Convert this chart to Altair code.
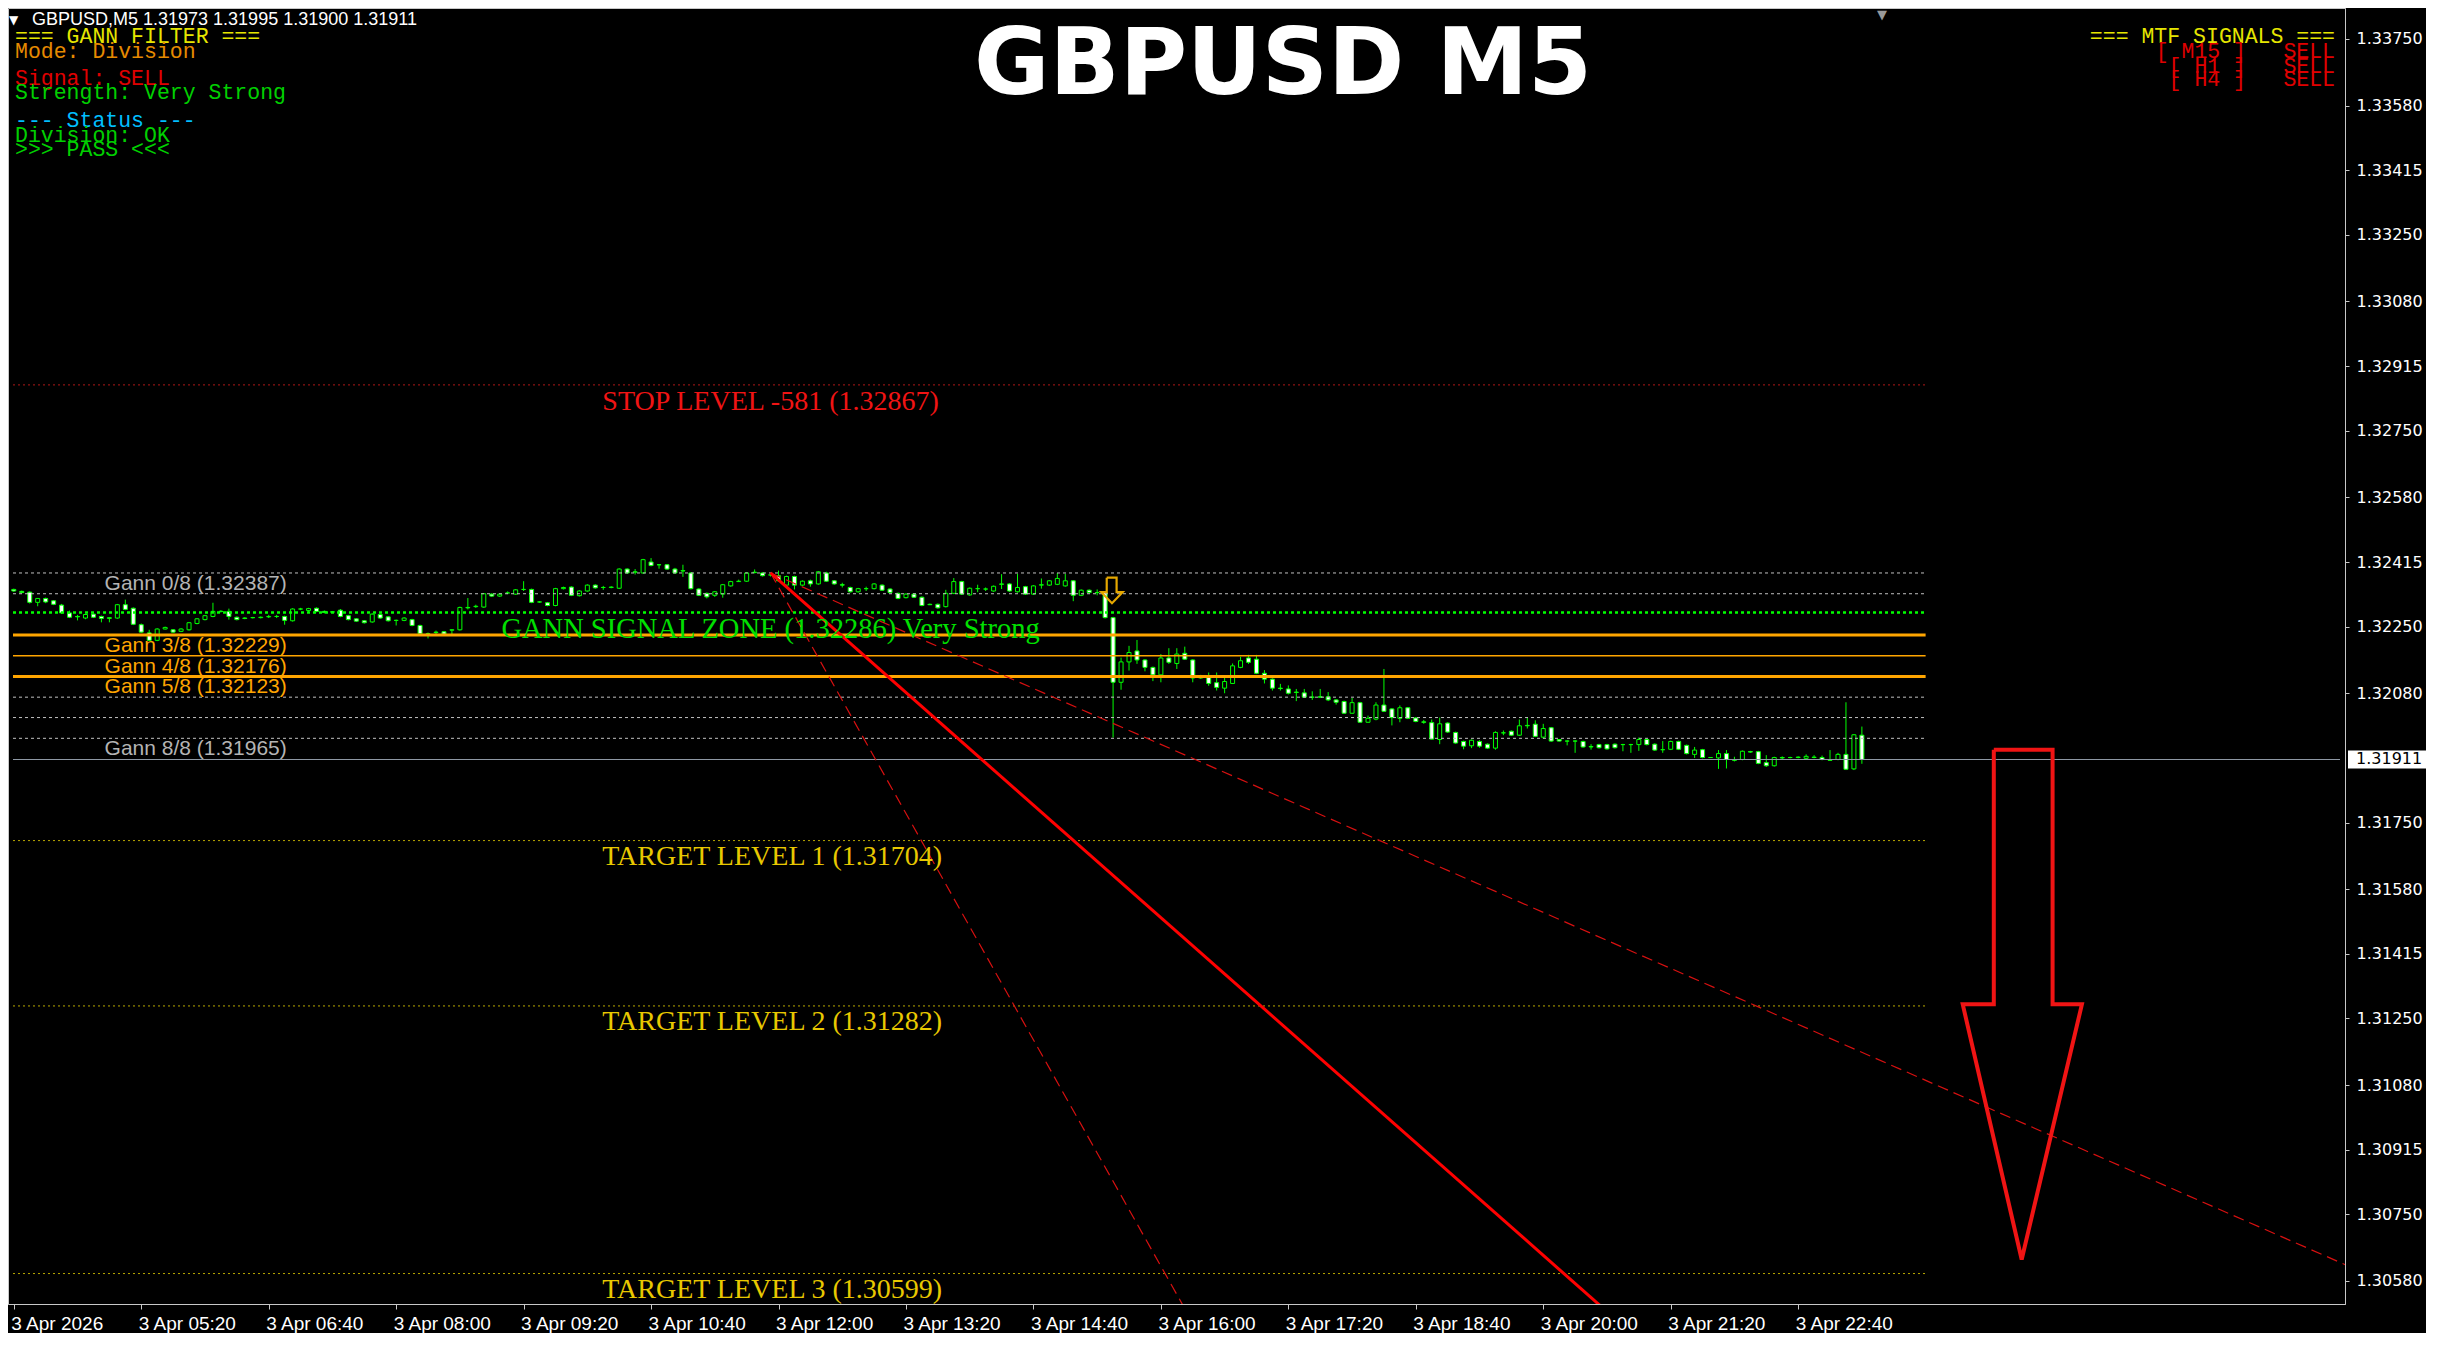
import altair as alt
import pandas as pd

# ---------------- axis ticks ----------------
TIME_TICKS = [0, 80, 160, 240, 320, 400, 480, 560, 640, 720, 800, 880, 960, 1040, 1120]  # minutes after 04:00
TIME_LABELS = ["3 Apr 2026", "3 Apr 05:20", "3 Apr 06:40", "3 Apr 08:00", "3 Apr 09:20",
               "3 Apr 10:40", "3 Apr 12:00", "3 Apr 13:20", "3 Apr 14:40", "3 Apr 16:00",
               "3 Apr 17:20", "3 Apr 18:40", "3 Apr 20:00", "3 Apr 21:20", "3 Apr 22:40"]
PRICE_TICKS = [1.33750, 1.33580, 1.33415, 1.33250, 1.33080, 1.32915, 1.32750, 1.32580,
               1.32415, 1.32250, 1.32080, 1.31750, 1.31580, 1.31415, 1.31250, 1.31080,
               1.30915, 1.30750, 1.30580]

# ---------------- M5 candles (bar i opens at 04:00 + 5*i minutes) ----------------
OPEN = [
    1.32345, 1.32340, 1.32338, 1.32312, 1.32322, 1.32316, 1.32305, 1.32285, 1.32276, 1.32272,
    1.32282, 1.32276, 1.32271, 1.32272, 1.32306, 1.32297, 1.32255, 1.32234, 1.32215, 1.32244,
    1.32242, 1.32238, 1.32242, 1.32258, 1.32268, 1.32276, 1.32289, 1.32289, 1.32274, 1.32272,
    1.32273, 1.32273, 1.32275, 1.32276, 1.32276, 1.32265, 1.32295, 1.32291, 1.32297, 1.32289,
    1.32287, 1.32292, 1.32278, 1.32270, 1.32265, 1.32262, 1.32281, 1.32275, 1.32266, 1.32266,
    1.32268, 1.32253, 1.32232, 1.32235, 1.32237, 1.32241, 1.32242, 1.32299, 1.32301, 1.32300,
    1.32333, 1.32328, 1.32336, 1.32333, 1.32345, 1.32345, 1.32313, 1.32311, 1.32304, 1.32347,
    1.32351, 1.32329, 1.32341, 1.32356, 1.32350, 1.32350, 1.32348, 1.32397, 1.32389, 1.32387,
    1.32415, 1.32408, 1.32408, 1.32397, 1.32392, 1.32387, 1.32346, 1.32335, 1.32330, 1.32333,
    1.32354, 1.32365, 1.32366, 1.32388, 1.32387, 1.32382, 1.32380, 1.32356, 1.32378, 1.32356,
    1.32367, 1.32359, 1.32387, 1.32367, 1.32357, 1.32350, 1.32339, 1.32347, 1.32347, 1.32356,
    1.32346, 1.32335, 1.32324, 1.32333, 1.32325, 1.32307, 1.32307, 1.32301, 1.32335, 1.32365,
    1.32331, 1.32347, 1.32346, 1.32341, 1.32358, 1.32359, 1.32339, 1.32352, 1.32333, 1.32356,
    1.32356, 1.32358, 1.32354, 1.32367, 1.32330, 1.32343, 1.32337, 1.32337, 1.32273, 1.32108,
    1.32160, 1.32188, 1.32165, 1.32146, 1.32127, 1.32170, 1.32156, 1.32182, 1.32165, 1.32125,
    1.32125, 1.32107, 1.32093, 1.32105, 1.32146, 1.32170, 1.32167, 1.32131, 1.32116, 1.32093,
    1.32091, 1.32083, 1.32081, 1.32070, 1.32071, 1.32071, 1.32063, 1.32059, 1.32029, 1.32056,
    1.32006, 1.32014, 1.32050, 1.32040, 1.32016, 1.32043, 1.32017, 1.32007, 1.32005, 1.31962,
    1.32004, 1.31980, 1.31957, 1.31946, 1.31957, 1.31950, 1.31940, 1.31979, 1.31983, 1.31973,
    1.31998, 1.32001, 1.31968, 1.31992, 1.31962, 1.31958, 1.31958, 1.31957, 1.31944, 1.31949,
    1.31949, 1.31950, 1.31949, 1.31949, 1.31949, 1.31962, 1.31950, 1.31936, 1.31937, 1.31957,
    1.31947, 1.31924, 1.31936, 1.31916, 1.31915, 1.31926, 1.31910, 1.31911, 1.31931, 1.31931,
    1.31903, 1.31895, 1.31916, 1.31916, 1.31916, 1.31914, 1.31917, 1.31916, 1.31910, 1.31911,
    1.31924, 1.31887, 1.31973,
]
HIGH = [
    1.32347, 1.32342, 1.32340, 1.32323, 1.32324, 1.32318, 1.32308, 1.32291, 1.32280, 1.32283,
    1.32284, 1.32278, 1.32274, 1.32308, 1.32319, 1.32299, 1.32258, 1.32242, 1.32246, 1.32250,
    1.32244, 1.32246, 1.32262, 1.32272, 1.32280, 1.32311, 1.32292, 1.32296, 1.32276, 1.32274,
    1.32275, 1.32276, 1.32280, 1.32280, 1.32278, 1.32297, 1.32298, 1.32298, 1.32299, 1.32291,
    1.32290, 1.32295, 1.32280, 1.32272, 1.32267, 1.32284, 1.32283, 1.32277, 1.32268, 1.32274,
    1.32270, 1.32255, 1.32235, 1.32240, 1.32239, 1.32244, 1.32301, 1.32323, 1.32306, 1.32336,
    1.32335, 1.32335, 1.32340, 1.32346, 1.32366, 1.32347, 1.32315, 1.32313, 1.32349, 1.32352,
    1.32353, 1.32343, 1.32358, 1.32358, 1.32354, 1.32353, 1.32399, 1.32399, 1.32397, 1.32423,
    1.32425, 1.32409, 1.32410, 1.32400, 1.32408, 1.32389, 1.32348, 1.32337, 1.32341, 1.32359,
    1.32367, 1.32370, 1.32389, 1.32396, 1.32389, 1.32386, 1.32393, 1.32380, 1.32380, 1.32368,
    1.32370, 1.32392, 1.32390, 1.32369, 1.32362, 1.32352, 1.32349, 1.32352, 1.32361, 1.32358,
    1.32348, 1.32337, 1.32335, 1.32335, 1.32327, 1.32309, 1.32309, 1.32344, 1.32374, 1.32367,
    1.32350, 1.32357, 1.32350, 1.32355, 1.32384, 1.32361, 1.32385, 1.32354, 1.32356, 1.32373,
    1.32369, 1.32387, 1.32385, 1.32369, 1.32345, 1.32345, 1.32345, 1.32339, 1.32275, 1.32171,
    1.32201, 1.32216, 1.32167, 1.32148, 1.32180, 1.32195, 1.32195, 1.32199, 1.32167, 1.32127,
    1.32133, 1.32133, 1.32121, 1.32156, 1.32173, 1.32178, 1.32178, 1.32139, 1.32118, 1.32104,
    1.32100, 1.32091, 1.32091, 1.32085, 1.32091, 1.32083, 1.32065, 1.32061, 1.32068, 1.32058,
    1.32023, 1.32057, 1.32142, 1.32042, 1.32049, 1.32045, 1.32019, 1.32012, 1.32013, 1.32018,
    1.32006, 1.31982, 1.31959, 1.31962, 1.31960, 1.31952, 1.31983, 1.31985, 1.31985, 1.32013,
    1.32018, 1.32011, 1.32002, 1.31994, 1.31963, 1.31960, 1.31960, 1.31959, 1.31950, 1.31951,
    1.31951, 1.31952, 1.31951, 1.31951, 1.31967, 1.31964, 1.31952, 1.31958, 1.31959, 1.31959,
    1.31949, 1.31943, 1.31938, 1.31917, 1.31935, 1.31935, 1.31918, 1.31934, 1.31933, 1.31933,
    1.31922, 1.31918, 1.31919, 1.31918, 1.31919, 1.31924, 1.31922, 1.31921, 1.31935, 1.31928,
    1.32057, 1.31976, 1.31995,
]
LOW = [
    1.32339, 1.32335, 1.32309, 1.32302, 1.32310, 1.32305, 1.32283, 1.32272, 1.32266, 1.32269,
    1.32272, 1.32261, 1.32261, 1.32270, 1.32292, 1.32254, 1.32234, 1.32214, 1.32213, 1.32243,
    1.32234, 1.32236, 1.32240, 1.32256, 1.32266, 1.32274, 1.32286, 1.32268, 1.32266, 1.32269,
    1.32271, 1.32271, 1.32272, 1.32272, 1.32255, 1.32263, 1.32292, 1.32286, 1.32287, 1.32284,
    1.32285, 1.32274, 1.32266, 1.32262, 1.32258, 1.32260, 1.32270, 1.32263, 1.32253, 1.32264,
    1.32251, 1.32230, 1.32220, 1.32228, 1.32229, 1.32230, 1.32240, 1.32294, 1.32298, 1.32298,
    1.32326, 1.32326, 1.32333, 1.32331, 1.32341, 1.32310, 1.32311, 1.32302, 1.32302, 1.32345,
    1.32328, 1.32327, 1.32339, 1.32347, 1.32344, 1.32348, 1.32346, 1.32385, 1.32383, 1.32385,
    1.32404, 1.32398, 1.32395, 1.32385, 1.32377, 1.32345, 1.32328, 1.32322, 1.32326, 1.32324,
    1.32352, 1.32364, 1.32364, 1.32386, 1.32378, 1.32378, 1.32365, 1.32350, 1.32345, 1.32354,
    1.32352, 1.32357, 1.32364, 1.32357, 1.32350, 1.32337, 1.32337, 1.32341, 1.32345, 1.32341,
    1.32335, 1.32320, 1.32322, 1.32323, 1.32302, 1.32305, 1.32296, 1.32299, 1.32333, 1.32331,
    1.32329, 1.32338, 1.32341, 1.32339, 1.32346, 1.32339, 1.32337, 1.32331, 1.32331, 1.32347,
    1.32354, 1.32356, 1.32352, 1.32315, 1.32328, 1.32335, 1.32330, 1.32271, 1.31967, 1.32089,
    1.32138, 1.32155, 1.32136, 1.32111, 1.32108, 1.32155, 1.32142, 1.32165, 1.32108, 1.32117,
    1.32099, 1.32087, 1.32080, 1.32104, 1.32144, 1.32155, 1.32129, 1.32105, 1.32087, 1.32087,
    1.32077, 1.32060, 1.32068, 1.32063, 1.32068, 1.32060, 1.32051, 1.32028, 1.32028, 1.32005,
    1.32005, 1.32011, 1.32032, 1.31998, 1.32006, 1.32014, 1.32006, 1.32002, 1.31962, 1.31950,
    1.31979, 1.31951, 1.31937, 1.31940, 1.31941, 1.31938, 1.31936, 1.31973, 1.31971, 1.31971,
    1.31990, 1.31968, 1.31964, 1.31956, 1.31957, 1.31947, 1.31928, 1.31941, 1.31936, 1.31939,
    1.31936, 1.31939, 1.31932, 1.31928, 1.31933, 1.31947, 1.31933, 1.31928, 1.31935, 1.31935,
    1.31924, 1.31915, 1.31914, 1.31915, 1.31887, 1.31888, 1.31906, 1.31909, 1.31928, 1.31899,
    1.31892, 1.31893, 1.31911, 1.31914, 1.31914, 1.31911, 1.31914, 1.31909, 1.31908, 1.31909,
    1.31884, 1.31884, 1.31900,
]
CLOSE = [
    1.32341, 1.32337, 1.32312, 1.32322, 1.32313, 1.32307, 1.32285, 1.32274, 1.32275, 1.32281,
    1.32274, 1.32271, 1.32273, 1.32306, 1.32294, 1.32256, 1.32236, 1.32215, 1.32244, 1.32248,
    1.32236, 1.32244, 1.32260, 1.32270, 1.32278, 1.32289, 1.32289, 1.32276, 1.32268, 1.32271,
    1.32273, 1.32274, 1.32276, 1.32276, 1.32266, 1.32295, 1.32295, 1.32296, 1.32289, 1.32286,
    1.32288, 1.32276, 1.32268, 1.32264, 1.32260, 1.32282, 1.32272, 1.32265, 1.32266, 1.32272,
    1.32253, 1.32232, 1.32231, 1.32236, 1.32231, 1.32242, 1.32299, 1.32298, 1.32302, 1.32334,
    1.32328, 1.32333, 1.32336, 1.32344, 1.32345, 1.32312, 1.32313, 1.32304, 1.32347, 1.32350,
    1.32330, 1.32341, 1.32356, 1.32349, 1.32350, 1.32351, 1.32397, 1.32387, 1.32390, 1.32421,
    1.32406, 1.32408, 1.32397, 1.32387, 1.32393, 1.32347, 1.32330, 1.32326, 1.32339, 1.32357,
    1.32365, 1.32366, 1.32387, 1.32389, 1.32380, 1.32382, 1.32367, 1.32378, 1.32356, 1.32366,
    1.32359, 1.32390, 1.32366, 1.32359, 1.32356, 1.32339, 1.32347, 1.32347, 1.32359, 1.32343,
    1.32337, 1.32322, 1.32333, 1.32325, 1.32304, 1.32306, 1.32298, 1.32335, 1.32365, 1.32333,
    1.32348, 1.32347, 1.32346, 1.32353, 1.32359, 1.32341, 1.32350, 1.32333, 1.32354, 1.32357,
    1.32367, 1.32373, 1.32367, 1.32330, 1.32343, 1.32337, 1.32337, 1.32273, 1.32108, 1.32160,
    1.32184, 1.32165, 1.32146, 1.32127, 1.32170, 1.32159, 1.32180, 1.32167, 1.32119, 1.32119,
    1.32105, 1.32095, 1.32110, 1.32150, 1.32163, 1.32159, 1.32131, 1.32116, 1.32093, 1.32092,
    1.32080, 1.32082, 1.32070, 1.32070, 1.32070, 1.32063, 1.32057, 1.32029, 1.32056, 1.32006,
    1.32016, 1.32050, 1.32034, 1.32018, 1.32043, 1.32016, 1.32008, 1.32006, 1.31963, 1.32002,
    1.31981, 1.31953, 1.31945, 1.31960, 1.31945, 1.31940, 1.31980, 1.31979, 1.31973, 1.31997,
    1.31997, 1.31970, 1.31990, 1.31958, 1.31958, 1.31958, 1.31958, 1.31943, 1.31943, 1.31941,
    1.31938, 1.31941, 1.31949, 1.31949, 1.31962, 1.31949, 1.31935, 1.31936, 1.31957, 1.31937,
    1.31926, 1.31935, 1.31916, 1.31916, 1.31926, 1.31911, 1.31909, 1.31932, 1.31930, 1.31901,
    1.31895, 1.31916, 1.31915, 1.31916, 1.31917, 1.31919, 1.31916, 1.31911, 1.31909, 1.31924,
    1.31886, 1.31974, 1.31911,
]

# ---------------- levels ----------------
GANN_NAMES = ["0/8", "1/8", "2/8", "3/8", "4/8", "5/8", "6/8", "7/8", "8/8"]
GANN_PRICES = [1.32387, 1.32334, 1.32282, 1.32229, 1.32176, 1.32123, 1.32070, 1.32018, 1.31965]
SIGNAL_ZONE = 1.32286
STOP_PRICE = 1.32867
STOP_PIPS = -581
TARGET_PRICES = [1.31704, 1.31282, 1.30599]
CURRENT_PRICE = 1.31911
LEVEL_END_T = 1200          # objects drawn up to 24:00
LABEL_T = 475               # centre time of level captions
GANN_LABEL_T = 57           # start time of Gann captions

# Gann fan from the 11:55 high
FAN_T0, FAN_P0 = 475, 1.32387
FAN_END_T = [760, 1020, 1480]
FAN_END_P = [1.30329, 1.30430, 1.30592]

# big hollow sell arrow outline
ARROW_T = [1242.8, 1279.7, 1279.7, 1298.1, 1260.3, 1223.3, 1242.8, 1242.8]
ARROW_P = [1.31936, 1.31936, 1.31286, 1.31286, 1.30635, 1.31286, 1.31286, 1.31936]

# small signal arrow outline (14:50 bar)
SIG_T = [686.0, 692.2, 692.2, 696.0, 689.3, 682.6, 686.0, 686.0]
SIG_P = [1.32375, 1.32375, 1.32338, 1.32338, 1.32310, 1.32338, 1.32338, 1.32375]

# texts
TITLE = "GBPUSD M5"
HEADER = "GBPUSD,M5  1.31973 1.31995 1.31900 1.31911"
INFO_LINES = ["=== GANN FILTER ===", "Mode: Division", "Signal: SELL", "Strength: Very Strong",
              "--- Status ---", "Division: OK", ">>> PASS <<<"]
MTF_TITLE = "=== MTF SIGNALS ==="
MTF_FRAMES = ["[ M15 ]", "[ H1 ]", "[ H4 ]"]
MTF_SIGNALS = ["SELL", "SELL", "SELL"]

# ---------------- scales / axes ----------------
W, H = 2337, 1296
Y_TOP, Y_BOT = 1.338289, 1.305213
XS = alt.Scale(domain=[-0.5, 1460.1], nice=False, zero=False)
YS = alt.Scale(domain=[Y_BOT, Y_TOP], nice=False, zero=False)
label_js = "[" + ",".join("'%s'" % s for s in TIME_LABELS) + "][round(datum.value / 80)]"
XAX = alt.Axis(values=TIME_TICKS, labelExpr=label_js, title=None, grid=False, labelAlign="left",
               labelFlush=False, labelOverlap=False, tickSize=5, labelPadding=5,
               labelFont="Liberation Sans", labelFontSize=19, labelColor="#FFFFFF",
               tickColor="#C8C8C8", domainColor="#C8C8C8", labelBaseline="top", labelOffset=-3)
YAX = alt.Axis(orient="right", values=PRICE_TICKS, format=".5f", title=None, grid=False,
               labelFont="DejaVu Sans", labelFontSize=16, labelColor="#FFFFFF",
               tickColor="#C8C8C8", domainColor="#C8C8C8", tickSize=4, labelPadding=7,
               labelOverlap=False, labelFlush=False)


def xq(f):
    return alt.X(f + ":Q", scale=XS, axis=XAX)


def yq(f):
    return alt.Y(f + ":Q", scale=YS, axis=YAX)


layers = []

# candles
n = len(OPEN)
cdf = pd.DataFrame({"t": [5 * i for i in range(n)], "o": OPEN, "h": HIGH, "l": LOW, "c": CLOSE})
layers.append(alt.Chart(cdf).mark_rule(color="#00FF00", strokeWidth=1).encode(
    x=xq("t"), y=yq("l"), y2="h:Q"))
layers.append(alt.Chart(cdf).mark_bar(size=4, stroke="#00FF00", strokeWidth=1).encode(
    x=xq("t"), y=yq("o"), y2="c:Q",
    fill=alt.condition("datum.c < datum.o", alt.value("#FFFFFF"), alt.value("#000000"))))


def hrule(prices, t0, t1, **style):
    df = pd.DataFrame({"p": prices, "t0": [t0] * len(prices), "t1": [t1] * len(prices)})
    return alt.Chart(df).mark_rule(**style).encode(x=xq("t0"), x2="t1:Q", y=yq("p"))


gray_idx = [0, 1, 6, 7, 8]
orange_thick = [3, 5]
layers.append(hrule([STOP_PRICE], -0.5, LEVEL_END_T, color="#B01818", strokeWidth=1, strokeDash=[2, 3]))
layers.append(hrule(TARGET_PRICES, -0.5, LEVEL_END_T, color="#B8A800", strokeWidth=1, strokeDash=[2, 3]))
layers.append(hrule([GANN_PRICES[i] for i in gray_idx], -0.5, LEVEL_END_T,
                    color="#C0C0C0", strokeWidth=1, strokeDash=[3, 3]))
layers.append(hrule([CURRENT_PRICE], -0.5, 1460.1, color="#8E98A4", strokeWidth=1.2))
layers.append(hrule([SIGNAL_ZONE], -0.5, LEVEL_END_T, color="#00FF00", strokeWidth=2.5, strokeDash=[3, 3]))
layers.append(hrule([GANN_PRICES[i] for i in orange_thick], -0.5, LEVEL_END_T, color="#FFA500", strokeWidth=3))
layers.append(hrule([GANN_PRICES[4]], -0.5, LEVEL_END_T, color="#FFA500", strokeWidth=1.5))

# Gann fan
fan_dash = pd.DataFrame({"id": [0, 0, 2, 2],
                         "t": [FAN_T0, FAN_END_T[0], FAN_T0, FAN_END_T[2]],
                         "p": [FAN_P0, FAN_END_P[0], FAN_P0, FAN_END_P[2]]})
layers.append(alt.Chart(fan_dash).mark_line(clip=True, color="#D81010", strokeWidth=1.2,
                                            strokeDash=[11, 6]).encode(
    x=xq("t"), y=yq("p"), detail="id:N"))
fan_solid = pd.DataFrame({"t": [FAN_T0, FAN_END_T[1]], "p": [FAN_P0, FAN_END_P[1]]})
layers.append(alt.Chart(fan_solid).mark_line(clip=True, color="#FF0000", strokeWidth=3).encode(
    x=xq("t"), y=yq("p")))

# big sell arrow
adf = pd.DataFrame({"t": ARROW_T, "p": ARROW_P, "k": list(range(len(ARROW_T)))})
layers.append(alt.Chart(adf).mark_line(color="#F01414", strokeWidth=4, strokeJoin="miter").encode(
    x=xq("t"), y=yq("p"), order="k:Q"))

# small signal arrow
sdf = pd.DataFrame({"t": SIG_T, "p": SIG_P, "k": list(range(len(SIG_T)))})
layers.append(alt.Chart(sdf).mark_line(color="#E6A800", strokeWidth=2.2, strokeJoin="miter").encode(
    x=xq("t"), y=yq("p"), order="k:Q"))

# level captions (serif)
cap_df = pd.DataFrame({"t": [LABEL_T], "p": [STOP_PRICE],
                       "s": ["STOP LEVEL %d (%.5f)" % (STOP_PIPS, STOP_PRICE)]})
layers.append(alt.Chart(cap_df).mark_text(font="Liberation Serif", fontSize=28, color="#F01414",
                                          align="center", baseline="middle", dy=17).encode(
    x=xq("t"), y=yq("p"), text="s:N"))
tgt_df = pd.DataFrame({"t": [LABEL_T + 1] * 3, "p": TARGET_PRICES,
                       "s": ["TARGET LEVEL %d (%.5f)" % (i + 1, p) for i, p in enumerate(TARGET_PRICES)]})
layers.append(alt.Chart(tgt_df).mark_text(font="Liberation Serif", fontSize=28, color="#E8C800",
                                          align="center", baseline="middle", dy=16).encode(
    x=xq("t"), y=yq("p"), text="s:N"))
zone_df = pd.DataFrame({"t": [LABEL_T], "p": [SIGNAL_ZONE],
                        "s": ["GANN SIGNAL ZONE (%.5f) Very Strong" % SIGNAL_ZONE]})
layers.append(alt.Chart(zone_df).mark_text(font="Liberation Serif", fontSize=28.5, color="#00E000",
                                           align="center", baseline="middle", dy=16).encode(
    x=xq("t"), y=yq("p"), text="s:N"))

# Gann captions
g_gray = [0, 8]
g_orange = [3, 4, 5]
for idxs, col in ((g_gray, "#B4B4B4"), (g_orange, "#FFA500")):
    gdf = pd.DataFrame({"t": [GANN_LABEL_T] * len(idxs), "p": [GANN_PRICES[i] for i in idxs],
                        "s": ["Gann %s (%.5f)" % (GANN_NAMES[i], GANN_PRICES[i]) for i in idxs]})
    layers.append(alt.Chart(gdf).mark_text(font="Liberation Sans", fontSize=21, color=col,
                                           align="left", baseline="middle", dy=11).encode(
        x=xq("t"), y=yq("p"), text="s:N"))

# current price box on the axis
half = 9 * (Y_TOP - Y_BOT) / H
bdf = pd.DataFrame({"p": [CURRENT_PRICE + half], "p2": [CURRENT_PRICE - half],
                    "pc": [CURRENT_PRICE], "s": ["%.5f" % CURRENT_PRICE]})
layers.append(alt.Chart(bdf).mark_rect(color="#FFFFFF").encode(
    x=alt.value(W + 3), x2=alt.value(W + 81), y=yq("p"), y2="p2:Q"))
layers.append(alt.Chart(bdf).mark_text(font="DejaVu Sans", fontSize=16, color="#000000",
                                       align="left", baseline="middle").encode(
    x=alt.value(W + 11), y=yq("pc"), text="s:N"))


def screen_text(s, x, y, color, size, font="Liberation Mono", align="left",
                baseline="middle", weight="normal"):
    return alt.Chart(pd.DataFrame({"s": [s]})).mark_text(
        align=align, baseline=baseline, font=font, fontSize=size, fontWeight=weight, color=color
    ).encode(x=alt.value(x), y=alt.value(y), text="s:N")


layers.append(screen_text(TITLE, 1275, 86, "#FFFFFF", 92, font="DejaVu Sans",
                          align="center", baseline="alphabetic", weight="bold"))
layers.append(screen_text("\u25bc", 1, 12, "#FFFFFF", 12, font="DejaVu Sans"))
layers.append(screen_text(HEADER, 24, 12, "#FFFFFF", 18, font="Liberation Sans"))
layers.append(screen_text("\u25bc", 1869, 1, "#9A9A9A", 13, font="DejaVu Sans", baseline="top"))

info_y = [28.5, 43.5, 71, 85, 113, 128, 142]
info_c = ["#E6E600", "#E68A00", "#E00000", "#00D000", "#00BFFF", "#00D000", "#00D000"]
for s, yy, cc in zip(INFO_LINES, info_y, info_c):
    layers.append(screen_text(s, 7, yy, cc, 21.5))

layers.append(screen_text(MTF_TITLE, 2327, 28.5, "#E6E600", 21.5, align="right"))
mtf_y = [43.5, 58.5, 72]
for fr, sg, yy in zip(MTF_FRAMES, MTF_SIGNALS, mtf_y):
    layers.append(screen_text(fr, 2238, yy, "#E00000", 21.5, align="right"))
    layers.append(screen_text(sg, 2327, yy, "#E00000", 21.5, align="right"))

chart = alt.layer(*layers).properties(width=W, height=H, padding=0).configure(
    background="#000000").configure_view(stroke="#C8C8C8", strokeWidth=1)

chart.save("out.html", embed_options={"renderer": "svg", "actions": False})
